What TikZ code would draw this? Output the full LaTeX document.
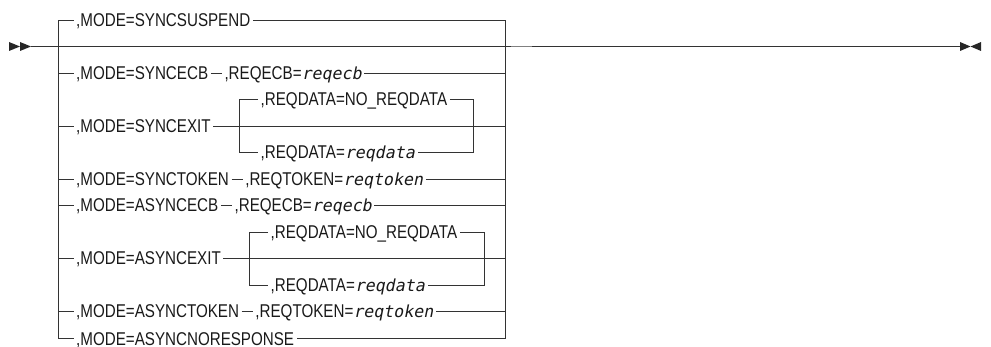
\documentclass[tikz,border=0pt]{standalone}
\usepackage{fontspec}
\setmainfont{Liberation Sans}[FakeStretch=0.82]
\newfontfamily\varfam{DejaVu Sans Mono}[FakeSlant=0.2]
\newcommand\varit[1]{{\varfam\fontsize{16.6}{20}\selectfont #1}}
\begin{document}
\begin{tikzpicture}[x=1pt,y=-1pt,
  rail/.style={draw=black!80,line width=1.3pt},
  lbl/.style={anchor=west,inner xsep=2.5pt,inner ysep=0pt,text height=15pt,text depth=2pt,
    font=\fontsize{18.5}{22}\selectfont,text=black!90},
  tip/.style={fill=black!85}]
\useasboundingbox (0,0) rectangle (991,347);

% named coordinates
\coordinate (start) at (31,46.5);
\coordinate (end) at (960,46.5);
\coordinate (LB) at (58.5,338.5);
\coordinate (RB) at (505.5,338.5);
\coordinate (SL1) at (239.5,152.5);
\coordinate (SR1) at (473.5,152.5);
\coordinate (SL2) at (249.5,285.5);
\coordinate (SR2) at (484.5,285.5);

% arrowheads
\fill[tip] (9,42) -- (20,46.5) -- (9,51) -- cycle;
\fill[tip] (20,42) -- (31,46.5) -- (20,51) -- cycle;
\fill[tip] (960,42) -- (970.5,46.5) -- (960,51) -- cycle;
\fill[tip] (981,42) -- (970.5,46.5) -- (981,51) -- cycle;

% labels
\node[lbl] (a0) at (73.5,20.5) {,MODE=SYNCSUSPEND};
\node[lbl] (a2) at (73.5,73.5) {,MODE=SYNCECB};
\node[lbl] (b2) at ([xshift=11pt]a2.east) {,REQECB=\varit{reqecb}};
\node[lbl] (a4) at (73.5,126.5) {,MODE=SYNCEXIT};
\node[lbl] (s3) at (258,99.5) {,REQDATA=NO\_REQDATA};
\node[lbl] (s5) at (258,152.5) {,REQDATA=\varit{reqdata}};
\node[lbl] (a6) at (73.5,179.5) {,MODE=SYNCTOKEN};
\node[lbl] (b6) at ([xshift=11pt]a6.east) {,REQTOKEN=\varit{reqtoken}};
\node[lbl] (a7) at (73.5,205.5) {,MODE=ASYNCECB};
\node[lbl] (b7) at ([xshift=11pt]a7.east) {,REQECB=\varit{reqecb}};
\node[lbl] (a9) at (73.5,258.5) {,MODE=ASYNCEXIT};
\node[lbl] (s8) at (268,232.5) {,REQDATA=NO\_REQDATA};
\node[lbl] (s10) at (268,285.5) {,REQDATA=\varit{reqdata}};
\node[lbl] (a11) at (73.5,311.5) {,MODE=ASYNCTOKEN};
\node[lbl] (b11) at ([xshift=11pt]a11.east) {,REQTOKEN=\varit{reqtoken}};
\node[lbl] (a12) at (73.5,338.5) {,MODE=ASYNCNORESPONSE};

% main line
\draw[rail] (start) -- (end);
\draw[black!50,line width=1.8pt] (511,46.5) -- (532,46.5);

% outer bracket
\draw[rail] (a0.west) -| (LB) -- (a12.west);
\draw[rail] (a0.east) -| (RB) -- (a12.east);

% rows
\draw[rail] (LB |- a2.west) -- (a2.west) (a2.east) -- (b2.west) (b2.east) -- (RB |- b2.east);
\draw[rail] (LB |- a4.west) -- (a4.west) (a4.east) -- (RB |- a4.east);
\draw[rail] (s3.west) -| (SL1) -- (s5.west);
\draw[rail] (s3.east) -| (SR1) -- (s5.east);
\draw[rail] (LB |- a6.west) -- (a6.west) (a6.east) -- (b6.west) (b6.east) -- (RB |- b6.east);
\draw[rail] (LB |- a7.west) -- (a7.west) (a7.east) -- (b7.west) (b7.east) -- (RB |- b7.east);
\draw[rail] (LB |- a9.west) -- (a9.west) (a9.east) -- (RB |- a9.east);
\draw[rail] (s8.west) -| (SL2) -- (s10.west);
\draw[rail] (s8.east) -| (SR2) -- (s10.east);
\draw[rail] (LB |- a11.west) -- (a11.west) (a11.east) -- (b11.west) (b11.east) -- (RB |- b11.east);
\end{tikzpicture}
\end{document}
